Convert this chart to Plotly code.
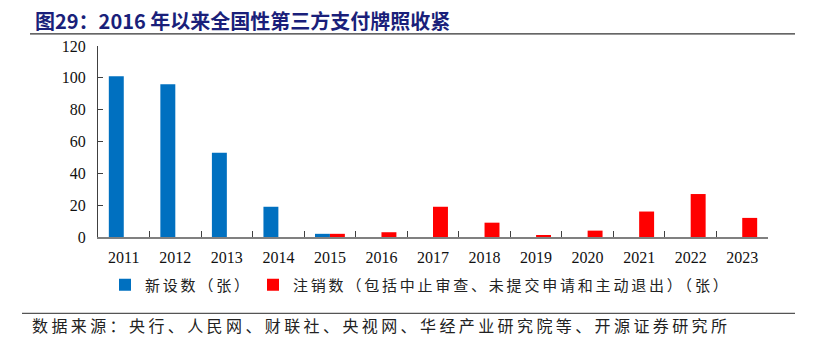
import plotly.graph_objects as go

years = ["2011", "2012", "2013", "2014", "2015", "2016", "2017",
         "2018", "2019", "2020", "2021", "2022", "2023"]
new_licenses = [101, 96, 53, 19, 2, None, None, None, None, None, None, None, None]
cancelled = [None, None, None, None, 2, 3, 19, 9, 1, 4, 16, 27, 12]

title_text = "图29：2016 年以来全国性第三方支付牌照收紧"
source_text = "数据来源：央行、人民网、财联社、央视网、华经产业研究院等、开源证券研究所"
name_new = "新设数（张）"
name_cancel = "注销数（包括中止审查、未提交申请和主动退出）（张）"

serif = "Liberation Serif, Times New Roman, serif"
cjk = "Noto Sans CJK SC, sans-serif"


def spaced(text, px):
    return '<span style="letter-spacing:%spx">%s</span>' % (px, text)


fig = go.Figure()
fig.add_trace(go.Bar(x=years, y=new_licenses, name=spaced(name_new, 2.8), legend="legend",
                     marker=dict(color="#0070C0", line=dict(width=0))))
fig.add_trace(go.Bar(x=years, y=cancelled, name=spaced(name_cancel, 2.8), legend="legend2",
                     marker=dict(color="#FF0000", line=dict(width=0))))

legend_style = dict(orientation="h", y=-0.165, xanchor="left", yanchor="top",
                    font=dict(family=cjk, size=15, color="#222"),
                    itemwidth=30, bgcolor="rgba(0,0,0,0)")

fig.update_layout(
    width=823, height=349,
    margin=dict(l=98, r=55, t=46, b=112),
    paper_bgcolor="white", plot_bgcolor="white",
    barmode="group", bargap=0.42, bargroupgap=0,
    showlegend=True,
    legend=dict(x=(105 - 98) / 670, **legend_style),
    legend2=dict(x=(253 - 98) / 670, **legend_style),
    font=dict(family=serif, size=16, color="#111"),
)
fig.update_xaxes(
    type="category", showline=True, linecolor="#808080", linewidth=1.5,
    ticks="inside", ticklen=6, tickcolor="#404040", tickson="boundaries",
    tickfont=dict(family=serif, size=16, color="#111"),
    showgrid=False, ticklabelstandoff=5,
)
fig.update_yaxes(
    range=[0, 120], dtick=20, showline=True, linecolor="#404040", linewidth=1,
    ticks="inside", ticklen=5, tickcolor="#404040",
    tickfont=dict(family=serif, size=16, color="#111"),
    showgrid=False, zeroline=False, ticklabelstandoff=8,
)

fig.add_annotation(text="<b>" + title_text + "</b>", xref="paper", yref="paper",
                   x=(33 - 98) / 670, y=1.136, xanchor="left", yanchor="middle",
                   showarrow=False,
                   font=dict(family=cjk, size=20, color="#1A1F7A"))
fig.add_annotation(text=spaced(source_text, 3.4), xref="paper", yref="paper",
                   x=(30 - 98) / 670, y=-0.461, xanchor="left", yanchor="middle",
                   showarrow=False,
                   font=dict(family=cjk, size=16, color="#222"))
fig.add_shape(type="line", xref="paper", yref="paper",
              x0=(30 - 98) / 670, x1=(795 - 98) / 670, y0=1.063, y1=1.063,
              line=dict(color="#333", width=1.2))
fig.add_shape(type="line", xref="paper", yref="paper",
              x0=(22 - 98) / 670, x1=(795 - 98) / 670, y0=-0.4, y1=-0.4,
              line=dict(color="#555", width=1.2))

fig.write_html("out.html")
